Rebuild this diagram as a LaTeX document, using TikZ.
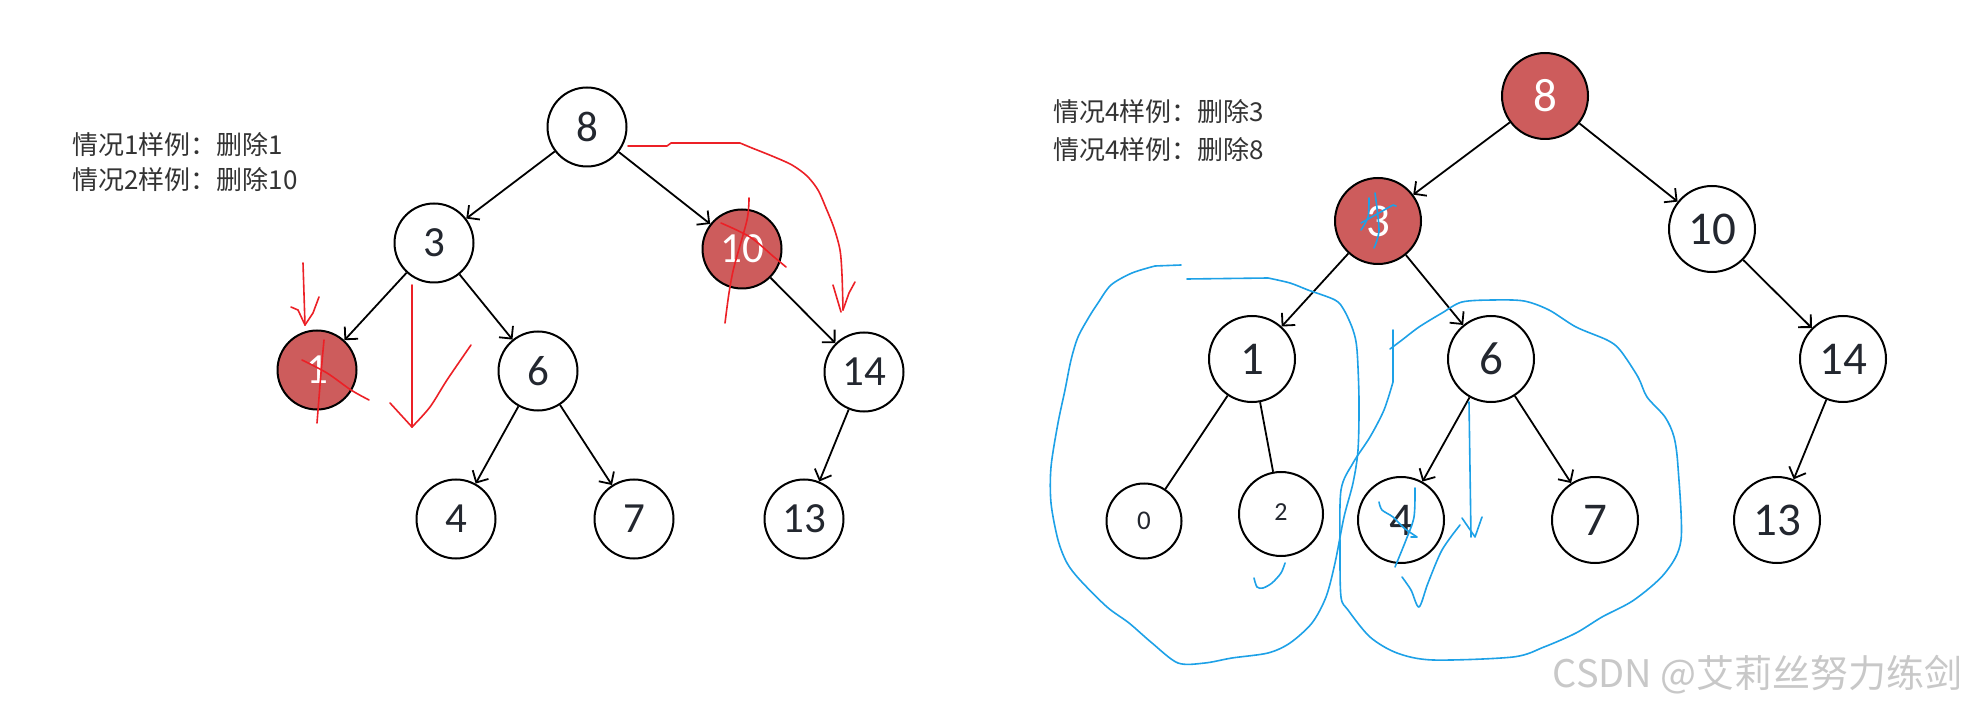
\documentclass[tikz,border=0pt]{standalone}
\usepackage{fontspec}
\setmainfont{Carlito}
\newfontfamily\cjk{Noto Sans CJK SC}
\usetikzlibrary{arrows.meta}
\definecolor{nodered}{RGB}{205,92,92}
\definecolor{inkblue}{RGB}{29,161,231}
\definecolor{inkred}{RGB}{236,32,38}
\definecolor{txt}{RGB}{51,51,51}
\definecolor{numc}{RGB}{35,39,47}
\definecolor{wm}{RGB}{200,200,200}
\begin{document}
\begin{tikzpicture}[x=1pt,y=-1pt,
  nd/.style={circle,draw=black,line width=2pt,inner sep=0pt,minimum size=79pt,text=numc,font=\fontsize{43}{43}\selectfont},
  ndb/.style={nd,minimum size=86pt,font=\fontsize{47}{47}\selectfont},
  del/.style={fill=nodered,text=white},
  edge/.style={line width=1.8pt,-{Straight Barb[length=9pt,width=18pt]}},
  plain/.style={line width=1.8pt},
  lbl/.style={anchor=west,text=txt,font=\cjk\fontsize{26}{26}\selectfont,inner sep=0pt},
  redink/.style={draw=inkred,line width=1.6pt,line cap=round,line join=round},
  blueink/.style={draw=inkblue,line width=1.6pt,line cap=round,line join=round}
]
\useasboundingbox[fill=white] (0,0) rectangle (1968,708);

% ---------- labels ----------
\node[lbl] (la1) at (72,145) {情况1样例：删除1};
\node[lbl] (la2) at (72,180) {情况2样例：删除10};
\node[lbl] (lb1) at (1053,112) {情况4样例：删除3};
\node[lbl] (lb2) at (1053,150) {情况4样例：删除8};

% ---------- left tree ----------
\node[nd] (L8) at (587,127) {8};
\node[nd] (L3) at (434,243) {3};
\node[nd,del] (L10) at (742,249) {10};
\node[nd,del] (L1) at (317,370) {1};
\node[nd] (L6) at (538,371) {6};
\node[nd] (L14) at (864,372) {14};
\node[nd] (L4) at (456,519) {4};
\node[nd] (L7) at (634,519) {7};
\node[nd] (L13) at (804,519) {13};
\draw[edge] (L8) -- (L3);
\draw[edge] (L8) -- (L10);
\draw[edge] (L3) -- (L1);
\draw[edge] (L3) -- (L6);
\draw[edge] (L10) -- (L14);
\draw[edge] (L6) -- (L4);
\draw[edge] (L6) -- (L7);
\draw[edge] (L14) -- (L13);

% ---------- right tree ----------
\node[ndb,del] (R8) at (1545,96) {8};
\node[ndb,del] (R3) at (1378,221) {3};
\node[ndb] (R10) at (1712,229) {10};
\node[ndb] (R1) at (1252,359) {1};
\node[ndb] (R6) at (1491,359) {6};
\node[ndb] (R14) at (1843,359) {14};
\node[nd,minimum size=75pt,font=\fontsize{27}{27}\selectfont] (R0) at (1144,521) {0};
\node[nd,minimum size=84pt,font=\fontsize{26}{26}\selectfont] (R2) at (1281,514) {\raisebox{3pt}{2}};
\node[ndb] (R4) at (1401,520) {4};
\node[ndb] (R7) at (1595,520) {7};
\node[ndb] (R13) at (1777,520) {13};
\draw[edge] (R8) -- (R3);
\draw[edge] (R8) -- (R10);
\draw[edge] (R3) -- (R1);
\draw[edge] (R3) -- (R6);
\draw[edge] (R10) -- (R14);
\draw[edge] (R14) -- (R13);
\draw[edge] (R6) -- (R4);
\draw[edge] (R6) -- (R7);
\draw[plain] (R1) -- (R0);
\draw[plain] (R1) -- (R2);

% ---------- red annotations ----------
\draw[redink] (628,146) -- (667,146) -- (671,143) -- (740,143)
  plot[smooth] coordinates {(740,143) (752,148) (772,156) (792,165) (807,176) (818,190) (826,208) (834,228) (840,250) (842,275) (843,310)};
\draw[redink] (833,285) -- (841,312);
\draw[redink] (855,282) -- (849,293) -- (843,310);
\draw[redink] plot[smooth] coordinates {(749,198) (747,220) (734,267) (729,293) (725,323)};
\draw[redink] plot[smooth] coordinates {(721,223) (750,237) (774,257) (786,267)};
\draw[redink] (303,263) -- (305,325);
\draw[redink] (291,307) -- (298,310) -- (305,325);
\draw[redink] (319,297) -- (313,313) -- (305,325);
\draw[redink] plot[smooth] coordinates {(324,340) (321,373) (317,423)};
\draw[redink] plot[smooth] coordinates {(302,360) (327,373) (351,390) (369,400)};
\draw[redink] (412,285) -- (412,427);
\draw[redink] (390,403) -- (412,427);
\draw[redink] plot[smooth] coordinates {(412,427) (430,407) (447,380) (471,345)};

% ---------- blue annotations ----------
\draw[blueink] (1181,265) -- (1155,266)
  plot[smooth] coordinates {(1155,266) (1132,273) (1111,285) (1098,303) (1089,317) (1078,337) (1071,360) (1065,390) (1058,423) (1051,467) (1051,503) (1058,540) (1067,563) (1080,580) (1107,607) (1129,623) (1152,643) (1178,663) (1205,663) (1232,658) (1268,653) (1290,643) (1312,623) (1326,597) (1335,563) (1344,517) (1353,483) (1358,450) (1359,400) (1357,350) (1353,330) (1344,310) (1335,300) (1308,290) (1290,283) (1268,278)}
  -- (1187,279);
\draw[blueink] plot[smooth] coordinates {(1390,349) (1402,340) (1419,327) (1442,313) (1462,302) (1493,300) (1524,301) (1549,310) (1576,327) (1607,340) (1620,350) (1638,377) (1647,397) (1665,417) (1674,437) (1678,467) (1681,540) (1665,573) (1634,600) (1602,617) (1576,633) (1544,647) (1513,657) (1433,660) (1397,653) (1370,637) (1348,610) (1341,597) (1340,550) (1341,490) (1353,463) (1370,437) (1384,410) (1393,382)} -- (1393,330);
\draw[blueink] (1469,402) -- (1471,537);
\draw[blueink] (1462,518) -- (1475,537) -- (1482,517);
\draw[blueink] plot[smooth] coordinates {(1379,502) (1382,510) (1393,517) (1404,528) (1417,537)} -- (1411,537);
\draw[blueink] plot[smooth] coordinates {(1415,488) (1414,517) (1406,540) (1395,567)};
\draw[blueink] plot[smooth] coordinates {(1402,577) (1411,590) (1419,607) (1428,583) (1442,550) (1460,525)};
\draw[blueink] plot[smooth] coordinates {(1285,563) (1281,573) (1272,583) (1263,588) (1257,587) (1254,578)};
\draw[blueink] plot[smooth] coordinates {(1375,193) (1379,230) (1374,248)};
\draw[blueink] plot[smooth] coordinates {(1369,198) (1368,217) (1361,230)};
\draw[blueink] (1361,223) -- (1393,205) -- (1396,206);

% ---------- watermark ----------
\node[anchor=east,inner sep=0pt,text=wm,font=\cjk\fontsize{38}{38}\selectfont] (wmk) at (1963,675) {CSDN @艾莉丝努力练剑};
\end{tikzpicture}
\end{document}
